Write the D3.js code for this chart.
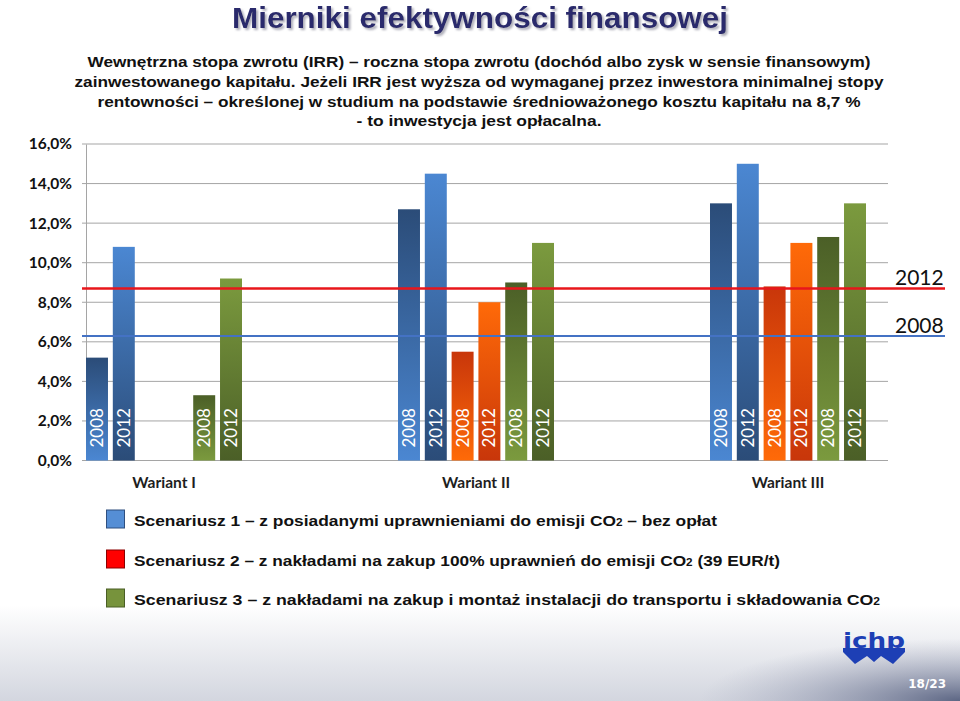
<!DOCTYPE html>
<html>
<head>
<meta charset="utf-8">
<script src="https://cdn.jsdelivr.net/npm/d3@7"></script>
<style>
  html, body { margin: 0; padding: 0; background: #ffffff; }
  svg { display: block; }
</style>
</head>
<body>
<svg id="chart" width="960" height="701"></svg>
<script>
// ---------------- DATA ----------------
const variants = ["Wariant I", "Wariant II", "Wariant III"];
const yTicks = [0, 2, 4, 6, 8, 10, 12, 14, 16];
const s1_2008 = [5.2, 12.7, 13.0];
const s1_2012 = [10.8, 14.5, 15.0];
const s2_2008 = [null, 5.5, 8.8];
const s2_2012 = [null, 8.0, 11.0];
const s3_2008 = [3.3, 9.0, 11.3];
const s3_2012 = [9.2, 11.0, 13.0];
const thresholdYears = ["2012", "2008"];
const thresholdValues = [8.7, 6.3];
const titleText = "Mierniki efektywności finansowej";
const introLines = [
  "Wewnętrzna stopa zwrotu (IRR) – roczna stopa zwrotu (dochód albo zysk w sensie finansowym)",
  "zainwestowanego kapitału. Jeżeli IRR jest wyższa od wymaganej przez inwestora minimalnej stopy",
  "rentowności – określonej w studium na podstawie średnioważonego kosztu kapitału na 8,7 %",
  "- to inwestycja jest opłacalna."
];
const legendLabels = [
  ["Scenariusz 1 – z posiadanymi uprawnieniami do emisji CO", " – bez opłat"],
  ["Scenariusz 2 – z nakładami na zakup 100% uprawnień do emisji CO", " (39 EUR/t)"],
  ["Scenariusz 3 – z nakładami na zakup i montaż instalacji do transportu i składowania CO", ""]
];
const pageLabel = "18/23";

// series table built from the arrays
const slots = [
  { key: "s1_2008", scen: 0, year: "2008", values: s1_2008 },
  { key: "s1_2012", scen: 0, year: "2012", values: s1_2012 },
  { key: "s2_2008", scen: 1, year: "2008", values: s2_2008 },
  { key: "s2_2012", scen: 1, year: "2012", values: s2_2012 },
  { key: "s3_2008", scen: 2, year: "2008", values: s3_2008 },
  { key: "s3_2012", scen: 2, year: "2012", values: s3_2012 }
];

// ---------------- STYLE ----------------
const scenColors = [
  { light: "#4b87d2", dark: "#2b4c78" },
  { light: "#ff6a08", dark: "#c8360a" },
  { light: "#7b9a3e", dark: "#4b5f27" }
];
const legendFill = ["#558ed5", "#ff0000", "#77933c"];
const legendStroke = ["#2f4f7f", "#8b0000", "#4a5e25"];
const thresholdColors = ["#e8161b", "#4472c4"];

const svg = d3.select("#chart");
const defs = svg.append("defs");

// gradients: 2008 dark top -> light bottom; 2012 light top -> dark bottom
scenColors.forEach((c, i) => {
  ["2008", "2012"].forEach(yr => {
    const g = defs.append("linearGradient")
      .attr("id", `g${i}_${yr}`)
      .attr("x1", 0).attr("y1", 0).attr("x2", 0).attr("y2", 1);
    const top = yr === "2008" ? c.dark : c.light;
    const bot = yr === "2008" ? c.light : c.dark;
    g.append("stop").attr("offset", "0%").attr("stop-color", top);
    g.append("stop").attr("offset", "100%").attr("stop-color", bot);
  });
});

// title shadow filter
const f = defs.append("filter").attr("id", "tshadow")
  .attr("x", "-5%").attr("y", "-20%").attr("width", "110%").attr("height", "150%");
f.append("feDropShadow").attr("dx", 2).attr("dy", 2).attr("stdDeviation", 1)
  .attr("flood-color", "#9a9aa8").attr("flood-opacity", 0.8);

// bottom background gradient
const bg = defs.append("linearGradient").attr("id", "bgV")
  .attr("x1", 0).attr("y1", 0).attr("x2", 0).attr("y2", 1);
bg.append("stop").attr("offset", "0%").attr("stop-color", "#ffffff");
bg.append("stop").attr("offset", "100%").attr("stop-color", "#d3d6df");
const bgR = defs.append("radialGradient").attr("id", "bgR")
  .attr("cx", "100%").attr("cy", "100%").attr("r", "65%");
bgR.append("stop").attr("offset", "0%").attr("stop-color", "#56607f").attr("stop-opacity", 0.95);
bgR.append("stop").attr("offset", "100%").attr("stop-color", "#9aa0b8").attr("stop-opacity", 0);

svg.append("rect").attr("x", 0).attr("y", 605).attr("width", 960).attr("height", 96)
  .attr("fill", "url(#bgV)");
svg.append("rect").attr("x", 560).attr("y", 605).attr("width", 400).attr("height", 96)
  .attr("fill", "url(#bgR)");

// ---------------- TITLE ----------------
svg.append("text").attr("x", 480).attr("y", 28).attr("text-anchor", "middle")
  .attr("font-family", "'Liberation Sans Narrow','Arial Narrow','Liberation Sans',sans-serif")
  .attr("font-weight", "bold").attr("font-size", 30)
  .attr("fill", "#2b2c6c").attr("textLength", 496).attr("lengthAdjust", "spacingAndGlyphs")
  .attr("filter", "url(#tshadow)")
  .text(titleText);

// intro paragraph
const introWidths = [783, 809, 763, 245];
const introBase = [67, 87, 107, 126];
svg.append("g").attr("font-family", "'Liberation Sans',Arial,sans-serif").attr("font-weight", "bold")
  .attr("font-size", 15).attr("fill", "#111")
  .selectAll("text").data(introLines).join("text")
  .attr("x", 479).attr("y", (d, i) => introBase[i])
  .attr("text-anchor", "middle")
  .attr("textLength", (d, i) => introWidths[i]).attr("lengthAdjust", "spacingAndGlyphs")
  .text(d => d);

// ---------------- SCALES ----------------
const plotLeft = 86, plotRight = 888;
const y = d3.scaleLinear().domain([0, 16]).range([460.5, 144]);
const x0 = d3.scaleBand().domain(variants).range([86, 86 + 312 * 3]).paddingInner(0).paddingOuter(0);
const x1 = d3.scaleBand().domain(slots.map(s => s.key)).range([0, 156]).paddingInner(0.18).paddingOuter(0);

// gridlines
svg.append("g").selectAll("line").data(yTicks).join("line")
  .attr("x1", plotLeft - 4).attr("x2", plotRight)
  .attr("y1", d => y(d)).attr("y2", d => y(d))
  .attr("stroke", "#a5a5a5").attr("stroke-width", 1);

// y axis
const yAxis = d3.axisLeft(y).tickValues(yTicks).tickSize(0).tickPadding(14)
  .tickFormat(d => d.toFixed(1).replace(".", ",") + "%");
const yg = svg.append("g").attr("transform", `translate(${plotLeft},0)`).call(yAxis);
yg.select(".domain").attr("stroke", "#a5a5a5");
yg.selectAll("text").attr("font-family", "Lato, 'Open Sans', sans-serif")
  .attr("font-weight", "bold").attr("font-size", 15.5).attr("fill", "#111");

// ---------------- BARS ----------------
const groups = svg.append("g").selectAll("g").data(variants).join("g")
  .attr("transform", d => `translate(${x0(d)},0)`);

groups.each(function (v, vi) {
  const g = d3.select(this);
  const items = slots.map(s => ({ ...s, value: s.values[vi] })).filter(s => s.value != null);
  g.selectAll("rect").data(items).join("rect")
    .attr("x", d => x1(d.key)).attr("width", x1.bandwidth())
    .attr("y", d => y(d.value)).attr("height", d => y(0) - y(d.value))
    .attr("fill", d => `url(#g${d.scen}_${d.year})`);
  g.selectAll("text.yr").data(items).join("text").attr("class", "yr")
    .attr("transform", d => `translate(${x1(d.key) + x1.bandwidth() / 2 + 6},${y(0) - 13}) rotate(-90)`)
    .attr("font-family", "Lato, 'Open Sans', sans-serif").attr("font-size", 17)
    .attr("fill", "#ffffff").text(d => d.year);
});

// threshold lines
thresholdValues.forEach((t, i) => {
  svg.append("line").attr("x1", plotLeft - 4).attr("x2", 945)
    .attr("y1", y(t)).attr("y2", y(t))
    .attr("stroke", thresholdColors[i]).attr("stroke-width", i === 0 ? 2.5 : 2);
  svg.append("text").attr("x", 895).attr("y", y(t) - 3)
    .attr("font-family", "Lato, 'Open Sans', sans-serif").attr("font-size", 21)
    .attr("fill", "#111").text(thresholdYears[i]);
});

// x labels
svg.append("g").selectAll("text").data(variants).join("text")
  .attr("x", d => x0(d) + 78).attr("y", 488).attr("text-anchor", "middle")
  .attr("font-family", "Lato, 'Open Sans', sans-serif").attr("font-weight", "bold")
  .attr("font-size", 15.5).attr("fill", "#1e1e1e").text(d => d);

// ---------------- LEGEND ----------------
const legBase = [526, 566, 605];
const legWidths = [583, 646, 746];
const leg = svg.append("g");
legendLabels.forEach((lab, i) => {
  leg.append("rect").attr("x", 106.5).attr("y", legBase[i] - 16).attr("width", 18).attr("height", 18)
    .attr("fill", legendFill[i]).attr("stroke", legendStroke[i]).attr("stroke-width", 1);
  const t = leg.append("text").attr("x", 134).attr("y", legBase[i])
    .attr("font-family", "'Liberation Sans',Arial,sans-serif").attr("font-weight", "bold")
    .attr("font-size", 15.5).attr("fill", "#111")
    .attr("textLength", legWidths[i]).attr("lengthAdjust", "spacingAndGlyphs");
  t.append("tspan").text(lab[0]);
  t.append("tspan").attr("font-size", 10.5).text("2");
  if (lab[1]) t.append("tspan").text(lab[1]);
});

// ---------------- LOGO & PAGE ----------------
const logo = svg.append("g").attr("fill", "#1d3fb5");
logo.append("text").attr("x", 874).attr("y", 648).attr("text-anchor", "middle")
  .attr("font-family", "'DejaVu Sans',sans-serif").attr("font-weight", "bold")
  .attr("font-size", 22).attr("textLength", 62).attr("lengthAdjust", "spacingAndGlyphs")
  .text("ichp");
logo.append("path")
  .attr("d", "M843,648 L905,648 L905,652 L893,664 L881,656 L874,662 L867,656 L855,664 L843,652 Z");
svg.append("text").attr("x", 946).attr("y", 688).attr("text-anchor", "end")
  .attr("font-family", "'DejaVu Sans',sans-serif").attr("font-weight", "bold")
  .attr("font-size", 12).attr("fill", "#ffffff").text(pageLabel);
</script>
</body>
</html>
